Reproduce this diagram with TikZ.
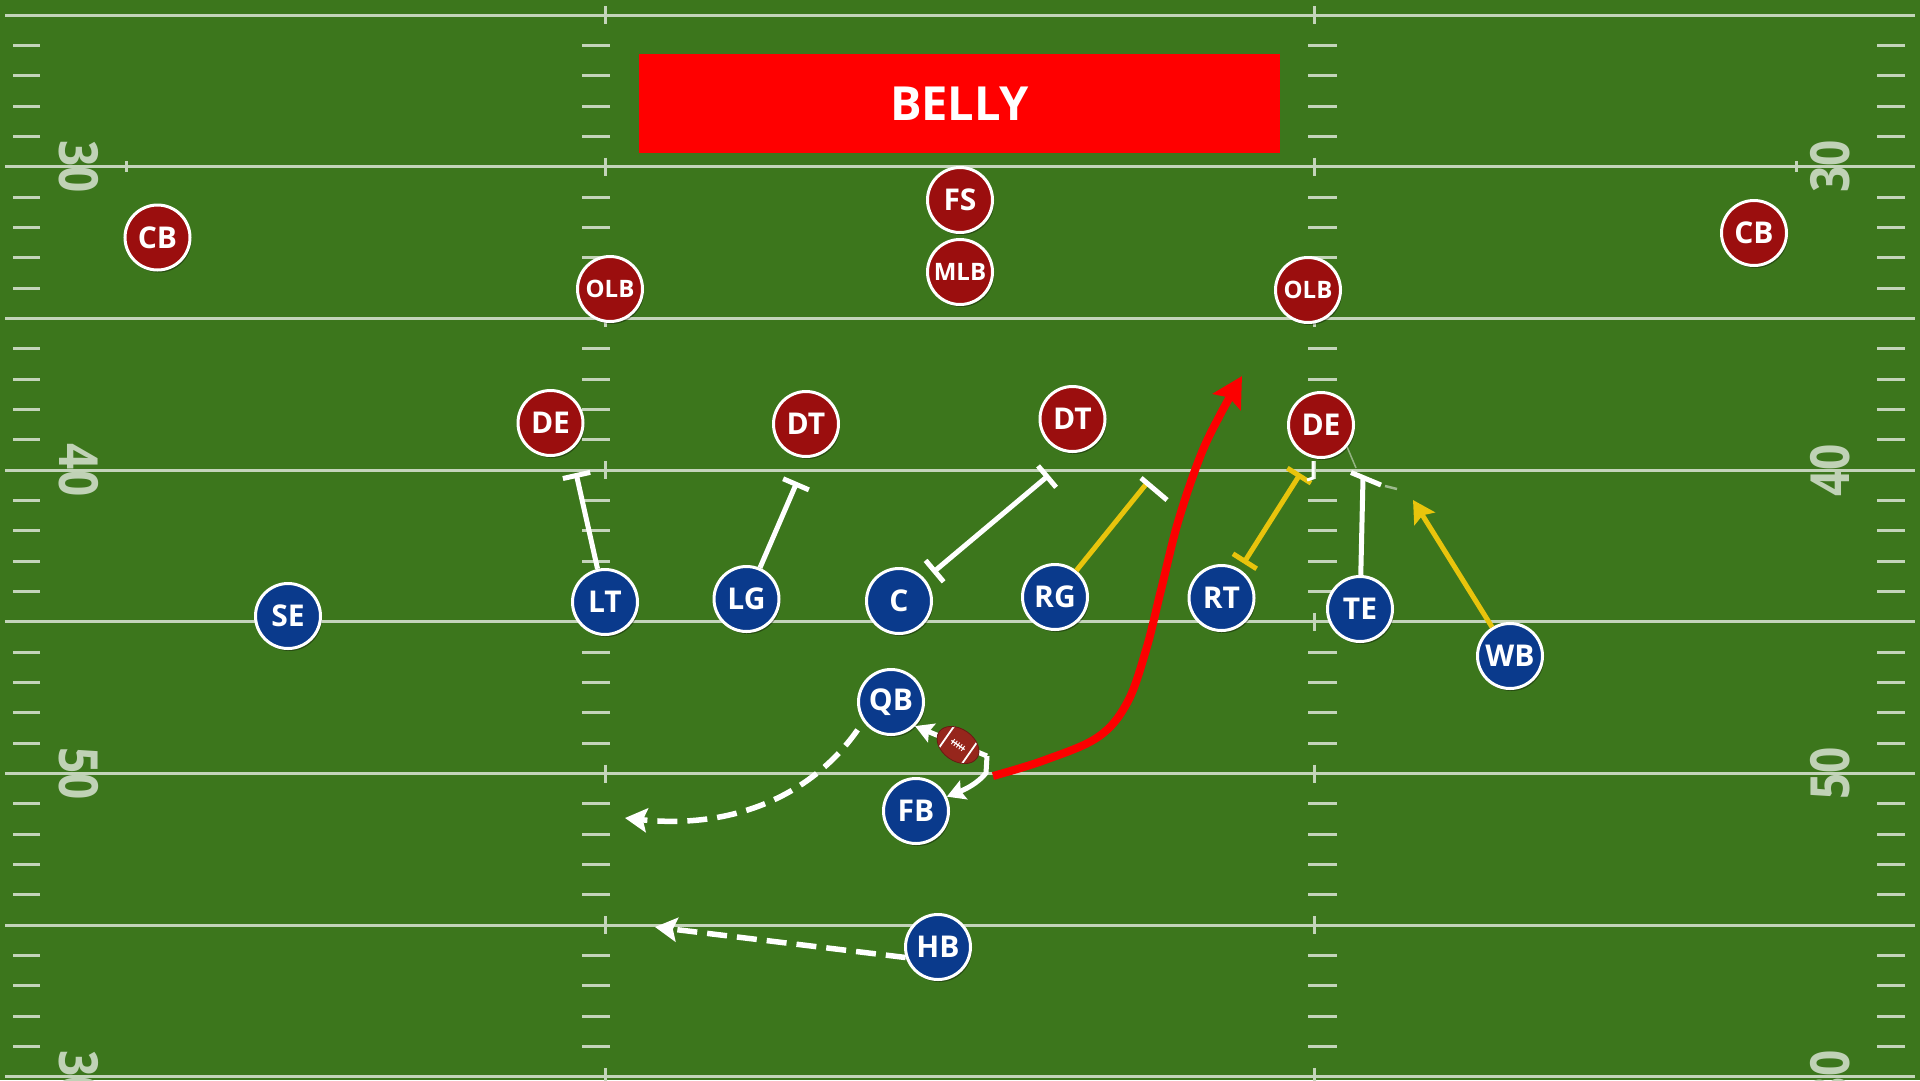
\documentclass[tikz,border=0pt]{standalone}
\usepackage{fontspec}
\setmainfont{Open Sans}
\usetikzlibrary{arrows.meta,shadows}
\definecolor{field}{RGB}{60,118,28}
\definecolor{chalk}{RGB}{196,212,186}
\definecolor{numc}{RGB}{192,210,182}
\definecolor{offblue}{RGB}{10,58,140}
\definecolor{defred}{RGB}{155,14,14}
\definecolor{yel}{RGB}{232,196,12}
\definecolor{runred}{RGB}{252,0,0}
\definecolor{banred}{RGB}{255,0,0}
\definecolor{ballc}{RGB}{150,38,28}
\begin{document}
\begin{tikzpicture}[x=1pt,y=-1pt,
  player/.style={circle, draw=white, line width=3pt, minimum size=65pt, inner sep=0pt, text=white,
    font=\fontsize{30}{30}\selectfont\bfseries,
    drop shadow={shadow xshift=1.5pt, shadow yshift=-2.5pt, opacity=0.35, fill=black}},
  offp/.style={player, fill=offblue},
  defp/.style={player, fill=defred},
  three/.style={font=\fontsize{24}{24}\selectfont\bfseries},
  banner/.style={rectangle, fill=banred, minimum width=641pt, minimum height=99pt, inner sep=0pt,
    text=white, font=\fontsize{47}{47}\selectfont\bfseries},
  yardnum/.style={inner sep=0pt, text=numc, font=\fontsize{54}{54}\selectfont\bfseries},
  chalkline/.style={draw=chalk, line width=3pt},
  hashmark/.style={draw=chalk, line width=3pt},
  blockw/.style={draw=white, line width=5pt},
  blocky/.style={draw=yel, line width=5pt},
  tend/.style={-{Bar[width=28pt]}},
  tboth/.style={{Bar[width=28pt]}-{Bar[width=28pt]}},
  yarrow/.style={draw=yel, line width=5pt, -{Stealth[length=22pt,width=24pt,inset=4pt]}},
  runline/.style={draw=runred, line width=8pt, -{Stealth[length=30pt,width=32pt,inset=5pt]}},
  dashrun/.style={draw=white, line width=5.5pt, dash pattern=on 20pt off 10pt,
    -{Stealth[length=22pt,width=24pt,inset=4pt]}},
  exch/.style={draw=white, line width=5pt, -{Stealth[length=18pt,width=20pt,inset=3pt]}}
]
\useasboundingbox (0,0) rectangle (1920,1080);
\fill[field] (0,0) rectangle (1920,1080);

% yard lines and cross ticks
\foreach \k in {0,...,7} {
  \pgfmathsetmacro\yy{15+151.7*\k}
  \draw[chalkline] (5,\yy) -- (1915,\yy);
  \draw[hashmark] (605,\yy-9) -- (605,\yy+9);
  \draw[hashmark] (1314,\yy-9) -- (1314,\yy+9);
}
% hash marks
\foreach \k in {0,...,6} {
  \foreach \j in {1,...,4} {
    \pgfmathsetmacro\yy{15+151.7*\k+30.34*\j}
    \draw[hashmark] (13,\yy) -- (40,\yy);
    \draw[hashmark] (582,\yy) -- (610,\yy);
    \draw[hashmark] (1308,\yy) -- (1337,\yy);
    \draw[hashmark] (1877,\yy) -- (1905,\yy);
  }
}
\draw[hashmark] (126,161) -- (126,172);
\draw[hashmark] (1796,161) -- (1796,172);

% yard numbers
\foreach \yy/\t [count=\i] in {166.7/30, 470.1/40, 773.5/50, 1076.9/30} {
  \node[yardnum, rotate=-90] (numL\i) at (79,\yy) {\scalebox{0.85}[1]{\t}};
  \node[yardnum, rotate=90] (numR\i) at (1830,\yy) {\scalebox{0.85}[1]{\t}};
}

% title
\node[banner] (title) at (959.5,103.5) {BELLY};

% defense
\node[defp] (FS) at (960,200) {FS};
\node[defp, three] (MLB) at (960,272) {MLB};
\node[defp] (CBL) at (157.5,237.5) {CB};
\node[defp] (CBR) at (1754,233) {CB};
\node[defp, three] (OLBL) at (610,289) {OLB};
\node[defp, three] (OLBR) at (1308,290) {OLB};
\node[defp] (DEL) at (550.5,423) {DE};
\node[defp] (DTL) at (806,424) {DT};
\node[defp] (DTR) at (1072.5,419) {DT};
\node[defp] (DER) at (1321,425) {DE};

% offense
\node[offp] (SE) at (288,616) {SE};
\node[offp] (LT) at (605,602) {LT};
\node[offp] (LG) at (746.5,599) {LG};
\node[offp] (C) at (899,601) {C};
\node[offp] (RG) at (1055,597) {RG};
\node[offp] (RT) at (1221.5,598) {RT};
\node[offp] (TE) at (1360,609) {TE};
\node[offp] (WB) at (1510,656) {WB};
\node[offp] (QB) at (891,702) {QB};
\node[offp] (FB) at (916,811) {FB};
\node[offp] (HB) at (938,947) {HB};

% endpoints
\coordinate (ltend) at (576,473);
\coordinate (lgend) at (797,482);
\coordinate (cend) at (1049,475);
\coordinate (rgend) at (1147,483);
\coordinate (rgbarA) at (1141,478);
\coordinate (rgbarB) at (1167,500);
\coordinate (rtend) at (1300.5,473.5);
\coordinate (teend) at (1363,478);
\coordinate (tebarA) at (1351,472.5);
\coordinate (tebarB) at (1381,485);
\coordinate (wbtip) at (1413,500);
\coordinate (qbend) at (625,818);
\coordinate (hbend) at (655,927);
\coordinate (hand) at (987,756);
\coordinate (handb) at (986,773);

% blocks
\draw[blockw, tend] (LT) -- (ltend);
\draw[blockw, tend] (LG) -- (lgend);
\draw[blockw, tboth, shorten <=10pt] (C) -- (cend);
\draw[blocky] (RG) -- (rgend);
\draw[blockw] (rgbarA) -- (rgbarB);
\draw[blocky, tboth, shorten <=7pt] (RT) -- (rtend);
\draw[draw=white, line width=3pt] (1313,461) -- (1313,478) -- (1307,480);
\draw[draw=white, opacity=0.45, line width=1.5pt] (DER.-40) -- (1356,468);
\draw[blockw] (TE) -- (teend);
\draw[blockw] (tebarA) -- (tebarB);
\draw[draw=white, opacity=0.5, line width=2.5pt] (1385,486) -- (1397,489);
\draw[yarrow] (WB) -- (wbtip);

% backfield
\draw[dashrun, dash phase=20pt] (QB.215) .. controls (820,790) and (740,830) .. (qbend);
\draw[dashrun] (HB.198) -- (hbend);
\draw[exch] (hand) -- (QB.-45);
\draw[exch] (hand) -- (handb) .. controls (978,783) and (966,789) .. (FB.25);

% ball
\begin{scope}[shift={(958,745)}, rotate=-35]
  \fill[ballc] (0,0) ellipse [x radius=23pt, y radius=16pt];
  \begin{scope}
    \clip (0,0) ellipse [x radius=23pt, y radius=16pt];
    \draw[white, line width=1.8pt] (-14,-18) -- (-14,18);
    \draw[white, line width=1.8pt] (14,-18) -- (14,18);
  \end{scope}
  \draw[ballc!70!black, line width=0.8pt] (0,0) ellipse [x radius=23pt, y radius=16pt];
  \draw[white, line width=1.2pt] (-8,0) -- (8,0);
  \foreach \lx in {-6,-3,0,3,6} { \draw[white, line width=0.9pt] (\lx,-3) -- (\lx,3); }
\end{scope}

% ball carrier
\draw[runline] plot[smooth, tension=0.6] coordinates {(993,776) (1045,760) (1098,737) (1127,703) (1146,650) (1161,590) (1178,522) (1200,457) (1220,415) (1242,376)};
\end{tikzpicture}
\end{document}
